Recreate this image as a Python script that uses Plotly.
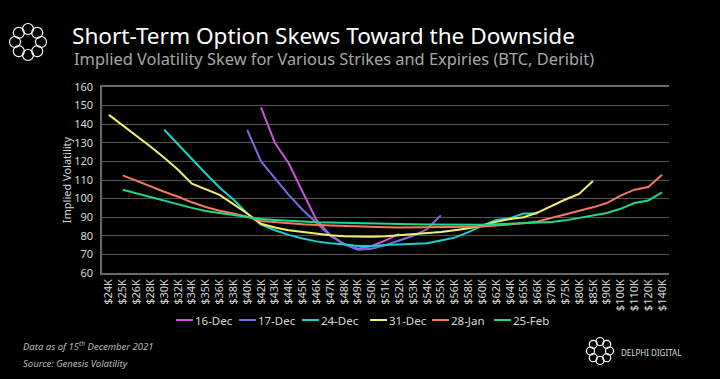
import math
import plotly.graph_objects as go

strikes = ["$24K","$25K","$26K","$28K","$30K","$32K","$34K","$35K","$36K","$38K","$40K",
           "$42K","$43K","$44K","$45K","$46K","$47K","$48K","$49K","$50K","$51K","$52K",
           "$53K","$54K","$55K","$56K","$58K","$60K","$62K","$64K","$65K","$66K","$70K",
           "$75K","$80K","$85K","$90K","$100K","$110K","$120K","$140K"]

N = None
iv_16dec = [N]*11 + [149, 130, 119, 104, 88.5, 80.5, 75.5, 73, 74.5, 77.5, 81] + [N]*19
iv_17dec = [N]*10 + [137, 120, 111, 102, 94, 87, 80, 75.5, 72.5, 73, 75, 77.5, 80, 83.5, 91] + [N]*16
iv_24dec = [N]*4 + [137, 129, 121, 113.5, 106, 99.5, 92, 86, 83, 80.5, 78.5, 77, 76, 75.5, 74.5,
                    74.5, 75, 75.2, 75.5, 76, 77.5, 79, 82, 85.5, 88.5, 89.5, 92, 92] + [N]*9
iv_31dec = [145, 139.5, 134, 128, 122, 115.5, 108, 105, 102, 97, 92, 86.5, 84.5, 83, 82, 81,
            80.3, 79.8, 79.5, 79.5, 79.7, 80.2, 81, 81.5, 82, 83, 84, 85.5, 87.5, 89, 90, 92.5,
            96, 99.5, 102.5, 109.5] + [N]*5
iv_28jan = [N] + [112.5, 109.5, 106.5, 103.7, 101, 98, 95.5, 93.5, 92, 90.3, 88, 87.3, 86.7, 86.2,
                  85.8, 85.5, 85.2, 85, 84.8, 84.6, 84.5, 84.5, 84.5, 84.5, 84.6, 84.8, 85, 85.5,
                  86, 86.7, 87.7, 89.5, 91.3, 93.1, 95.3, 97.6, 101.6, 104.8, 106.2, 112.8]
iv_25feb = [N] + [104.8, 102.8, 100.8, 98.7, 96.8, 95, 93.3, 92.2, 90.8, 89.7, 89, 88.5, 88, 87.6,
                  87.3, 87.1, 86.9, 86.7, 86.5, 86.4, 86.3, 86.2, 86.1, 86, 86, 86, 86, 86.2,
                  86.4, 86.6, 87, 87.4, 88.3, 89.5, 90.8, 92.3, 94.5, 97.6, 99, 103.3]

series = [("16-Dec", iv_16dec, "#cc55dd"),
          ("17-Dec", iv_17dec, "#7a6ce0"),
          ("24-Dec", iv_24dec, "#1ad0cc"),
          ("31-Dec", iv_31dec, "#f0f06a"),
          ("28-Jan", iv_28jan, "#f07a5a"),
          ("25-Feb", iv_25feb, "#1ed98a")]

W, H = 720, 379
L, R, T, B = 102, 51, 87, 106
pw, ph = W - L - R, H - T - B

def px(x):
    return (x - L) / pw

def py(y):
    return (H - B - y) / ph

fig = go.Figure()
for name, vals, col in series:
    fig.add_trace(go.Scatter(x=strikes, y=vals, name=name, mode="lines", showlegend=False,
                             line=dict(color=col, width=2)))

FONT = "Noto Sans"
tick_font = dict(family=FONT, size=11, color="#d8d8d8")

fig.update_layout(
    width=W, height=H,
    margin=dict(l=L, r=R, t=T, b=B, autoexpand=False),
    paper_bgcolor="#000000", plot_bgcolor="#000000",
    showlegend=False,
    title=dict(text="Short-Term Option Skews Toward the Downside",
               xref="container", yref="container", x=72 / W, xanchor="left",
               y=1 - 36 / H, yanchor="middle", automargin=False,
               font=dict(family=FONT, size=22.6, color="#ffffff")),
)

fig.update_xaxes(type="category", categoryorder="array", categoryarray=strikes,
                 tickangle=-90, tickfont=tick_font, showgrid=False, automargin=False,
                 showline=True, linecolor="#6a6a6a", linewidth=1.5, mirror=True,
                 ticks="", range=[-0.5, len(strikes) - 0.5], zeroline=False)
fig.update_yaxes(range=[60, 160], dtick=10, tickfont=tick_font, automargin=False,
                 showgrid=True, gridcolor="#555555", gridwidth=1,
                 showline=True, linecolor="#6a6a6a", linewidth=1.5, ticks="",
                 ticklabelstandoff=5, zeroline=False,
                 title=dict(text="Implied Volatility", standoff=0,
                            font=dict(family=FONT, size=11, color="#d8d8d8")))

ann = [
    dict(text="Implied Volatility Skew for Various Strikes and Expiries (BTC, Deribit)",
         x=px(72), y=py(59), xanchor="left", yanchor="middle",
         font=dict(family=FONT, size=16.4, color="#a8a8a8")),
    dict(text="<i>Data as of 15<sup>th</sup> December 2021</i>", x=px(21), y=py(346),
         xanchor="left", yanchor="middle", font=dict(family=FONT, size=9.5, color="#bbbbbb")),
    dict(text="<i>Source: Genesis Volatility</i>", x=px(21), y=py(363),
         xanchor="left", yanchor="middle", font=dict(family=FONT, size=9.5, color="#bbbbbb")),
    dict(text="DELPHI DIGITAL", x=px(619), y=py(352), xanchor="left", yanchor="middle",
         font=dict(family=FONT, size=8, color="#dddddd")),
]

shapes = []
# legend (built from the series list)
leg_starts = [176, 239, 302, 370, 432, 494]
leg_y = 320
for (name, _, col), x0 in zip(series, leg_starts):
    shapes.append(dict(type="line", xref="paper", yref="paper",
                       x0=px(x0), x1=px(x0 + 17), y0=py(leg_y), y1=py(leg_y),
                       line=dict(color=col, width=2)))
    ann.append(dict(text=name, x=px(x0 + 17), y=py(leg_y), xanchor="left", yanchor="middle",
                    font=dict(family=FONT, size=11.5, color="#d8d8d8")))

for a in ann:
    a.update(xref="paper", yref="paper", showarrow=False)
fig.update_layout(annotations=ann)

# decorative logos: rings of loops
def ring(cx, cy, R0, r, n):
    for k in range(n):
        a = 2 * math.pi * k / n + math.pi / 2
        x = cx + R0 * math.cos(a)
        y = cy + R0 * math.sin(a)
        shapes.append(dict(type="circle", xref="paper", yref="paper",
                           x0=px(x - r), x1=px(x + r), y0=py(y + r), y1=py(y - r),
                           line=dict(color="#ffffff", width=1.2), fillcolor="rgba(0,0,0,0)"))
ring(28, 42, 13, 5.5, 8)
ring(600, 351, 9.5, 4, 8)
fig.update_layout(shapes=shapes)

fig.write_html("out.html", config={"displayModeBar": False},
               post_script="document.body.style.margin='0';document.body.style.background='#000';")
